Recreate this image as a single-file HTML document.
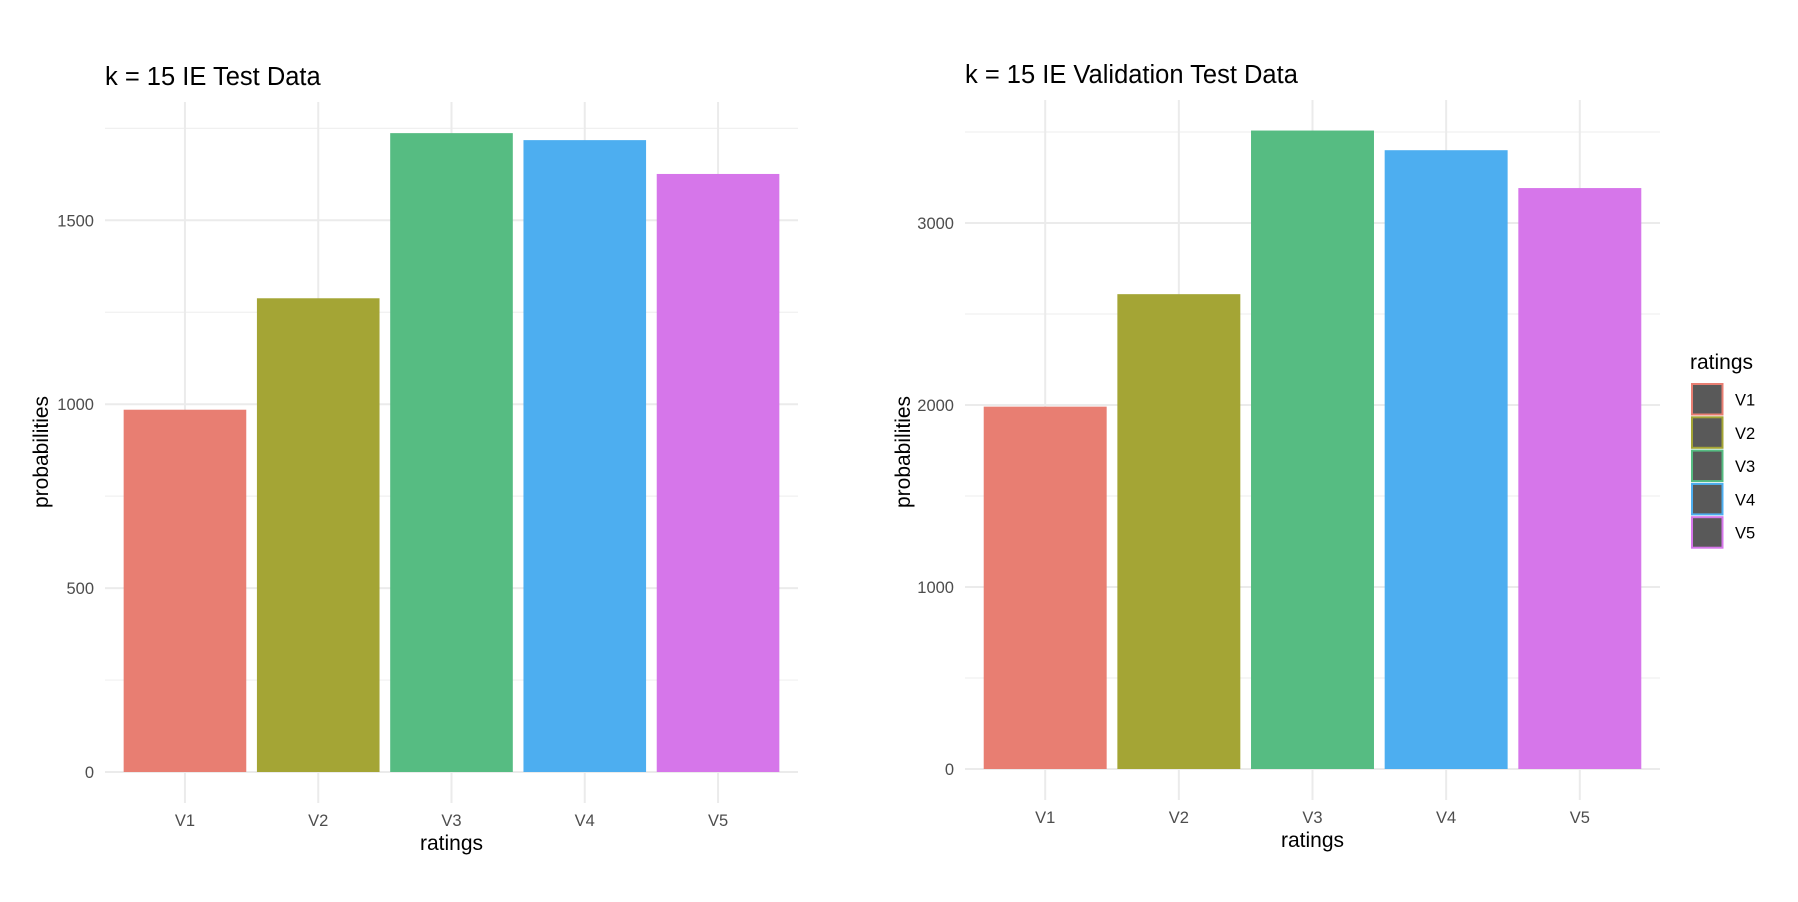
<!DOCTYPE html>
<html><head><meta charset="utf-8"><style>
body{margin:0;background:#fff;}
svg{display:block;font-family:"Liberation Sans",sans-serif;}
</style></head><body>
<svg id="chart" width="1798" height="902" viewBox="0 0 1798 902" xmlns="http://www.w3.org/2000/svg"></svg>
<script>
const categories = ["V1","V2","V3","V4","V5"];
const testValues = [985, 1288, 1737, 1718, 1626];
const validationValues = [1991, 2609, 3508, 3400, 3192];
const testTicks = [0, 500, 1000, 1500];
const validationTicks = [0, 1000, 2000, 3000];
const colors = ["#E87E72","#A4A535","#56BC82","#4DAEF0","#D676EA"];

const NS = "http://www.w3.org/2000/svg";
const svg = document.getElementById("chart");
function mk(tag, attrs, parent){
  const e = document.createElementNS(NS, tag);
  for (const k in attrs) e.setAttribute(k, attrs[k]);
  (parent||svg).appendChild(e);
  return e;
}

function panel(cfg, values, ticks){
  const g = mk("g", {});
  
  
  const yScale = v => cfg.y0 - v * cfg.pxPerUnit;
  const step = (cfg.x1 - cfg.x0) / (categories.length + 0.2);
  const xScale = i => cfg.x0 + step * (0.6 + i);
  const minorStep = ticks[1] - ticks[0];
  for (let v = minorStep/2; yScale(v) >= cfg.top; v += minorStep){
    const l = mk("line", {x1:cfg.x0, x2:cfg.x1, y1:yScale(v), y2:yScale(v), stroke:"#f0f0f0", "stroke-width":1.2}, g);
    
    
  }
  ticks.forEach(t => {
    const l = mk("line", {x1:cfg.x0, x2:cfg.x1, y1:yScale(t), y2:yScale(t), stroke:"#ebebeb", "stroke-width":2}, g);
    
    
    const tx = mk("text", {x:cfg.x0-11, y:yScale(t)+6, "text-anchor":"end", "font-size":16.5, fill:"#4d4d4d"}, g);
    tx.textContent = t;
    
    
  });
  categories.forEach((c, i) => {
    const l = mk("line", {x1:xScale(i), x2:xScale(i), y1:cfg.top, y2:cfg.y0+31, stroke:"#ebebeb", "stroke-width":2}, g);
    
    
  });
  categories.forEach((c, i) => {
    const w = step * 0.92;
    const r = mk("rect", {x:xScale(i)-w/2, y:yScale(values[i]), width:w, height:cfg.y0 - yScale(values[i]), fill:colors[i]}, g);
    
    
    const tx = mk("text", {x:xScale(i), y:cfg.y0+54, "text-anchor":"middle", "font-size":16.5, fill:"#4d4d4d"}, g);
    tx.textContent = c;
    
    
  });
  const t = mk("text", {x:cfg.x0, y:cfg.titleY, "font-size":25.5, fill:"#000"}, g);
  t.textContent = cfg.title;
  
  
  const xt = mk("text", {x:(cfg.x0+cfg.x1)/2, y:cfg.y0+78, "text-anchor":"middle", "font-size":21, fill:"#000"}, g);
  xt.textContent = "ratings";
  
  
  const yt = mk("text", {x:0, y:0, "text-anchor":"middle", "font-size":21, fill:"#000", transform:`translate(${cfg.yTitleX},452) rotate(-90)`}, g);
  yt.textContent = "probabilities";
  
  
}

panel({name:"test-panel", title:"k = 15 IE Test Data", x0:105, x1:798, top:102, y0:772, pxPerUnit:183.9/500, titleY:85, yTitleX:48}, testValues, testTicks);
panel({name:"validation-panel", title:"k = 15 IE Validation Test Data", x0:965, x1:1660, top:100, y0:769, pxPerUnit:182/1000, titleY:83, yTitleX:910}, validationValues, validationTicks);

const lg = mk("g", {});


const lt = mk("text", {x:1690, y:369, "font-size":21, fill:"#000"}, lg);
lt.textContent = "ratings";


categories.forEach((c, i) => {
  const y = 384 + i * 33.3;
  const r = mk("rect", {x:1692, y:y, width:30.5, height:30.5, fill:"#595959", stroke:colors[i], "stroke-width":2}, lg);
  
  
  const t = mk("text", {x:1735, y:y+21.5, "font-size":16.5, fill:"#000"}, lg);
  t.textContent = c;
  
  
});
</script>
</body></html>
